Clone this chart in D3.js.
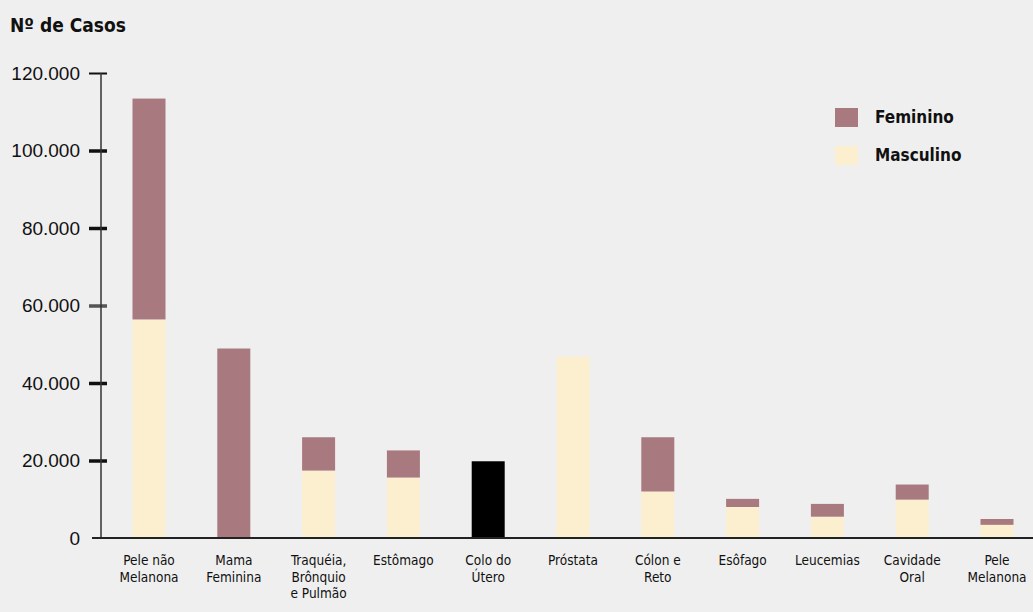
<!DOCTYPE html>
<html>
<head>
<meta charset="utf-8">
<script src="https://cdn.jsdelivr.net/npm/d3@7/dist/d3.min.js"></script>
<style>
  html, body { margin: 0; padding: 0; background: #efefef; }
  svg { display: block; }
  text { font-family: "DejaVu Sans Condensed", "Liberation Sans Narrow", "Liberation Sans", sans-serif; fill: #111; }
</style>
</head>
<body>
<svg id="chart" width="1033" height="612"></svg>
<script>
const categories = [
  ["Pele não", "Melanona"],
  ["Mama", "Feminina"],
  ["Traquéia,", "Brônquio", "e Pulmão"],
  ["Estômago"],
  ["Colo do", "Útero"],
  ["Próstata"],
  ["Cólon e", "Reto"],
  ["Esôfago"],
  ["Leucemias"],
  ["Cavidade", "Oral"],
  ["Pele", "Melanona"]
];
const masculino = [56400, 0, 17400, 15600, 0, 46800, 12000, 8000, 5500, 9900, 3400];
const feminino  = [57000, 48900, 8600, 7000, 19800, 0, 14000, 2100, 3300, 3900, 1500];
const yTicks = [0, 20000, 40000, 60000, 80000, 100000, 120000];
const seriesNames = ["Feminino", "Masculino"];
const colors = { Feminino: "#a8797f", Masculino: "#fcefd0", special: "#000000" };
const specialIndex = 4; // Colo do Útero drawn black in the original

const svg = d3.select("#chart");
const keys = categories.map(c => c.join(" "));

const x = d3.scalePoint().domain(keys).range([149, 997]);
const y = d3.scaleLinear().domain([0, 120000]).range([538, 73]);
const barW = 33;

const locale = d3.formatLocale({ decimal: ",", thousands: ".", grouping: [3], currency: ["R$", ""] });
const fmt = locale.format(",d");

// title
svg.append("text").attr("x", 10).attr("y", 32)
  .attr("font-size", 19).attr("font-weight", "bold")
  .text("Nº de Casos");

// y axis
const yAxis = d3.axisLeft(y).tickValues(yTicks).tickFormat(fmt).tickSize(0).tickPadding(21);
const gy = svg.append("g").attr("transform", "translate(101,0)").call(yAxis);
gy.select(".domain").remove();
gy.selectAll(".tick text").attr("font-size", 19).style("font-family", "inherit").attr("fill", "#111");
gy.append("line").attr("x1", 0).attr("x2", 0).attr("y1", y(120000)).attr("y2", y(0))
  .attr("stroke", "#333").attr("stroke-width", 1.5);
gy.selectAll(".tick").filter(d => d > 0).append("line")
  .attr("x1", -12).attr("x2", 6).attr("y1", 0).attr("y2", 0)
  .attr("stroke", d => d === 60000 ? "#555" : "#111")
  .attr("stroke-width", d => d === 120000 ? 2 : 3.5);

// stacked bars
const data = keys.map((k, i) => ({ key: k, Masculino: masculino[i], Feminino: feminino[i], i }));
const stack = d3.stack().keys(["Masculino", "Feminino"]);
const layers = stack(data);
svg.append("g").selectAll("g").data(layers).join("g")
  .selectAll("rect").data(d => d.map(v => ({ v, key: d.key })))
  .join("rect")
  .attr("x", d => x(d.v.data.key) - barW / 2)
  .attr("width", barW)
  .attr("y", d => y(d.v[1]))
  .attr("height", d => y(d.v[0]) - y(d.v[1]))
  .attr("fill", d => (d.key === "Feminino" && d.v.data.i === specialIndex) ? colors.special : colors[d.key]);

// x axis line
svg.append("line").attr("x1", 92).attr("x2", 1033).attr("y1", y(0)).attr("y2", y(0))
  .attr("stroke", "#222").attr("stroke-width", 2);

// x labels
const xl = svg.append("g").selectAll("text").data(categories).join("text")
  .attr("text-anchor", "middle")
  .attr("font-size", 13.5)
  .attr("transform", (d, i) => `translate(${x(keys[i])},565)`);
xl.selectAll("tspan").data(d => d).join("tspan")
  .attr("x", 0).attr("dy", (d, j) => j === 0 ? 0 : 16.5)
  .text(d => d);

// legend
const leg = svg.append("g");
seriesNames.forEach((s, i) => {
  leg.append("rect").attr("x", 835).attr("y", 108 + i * 38).attr("width", 23).attr("height", 19)
    .attr("fill", colors[s]);
  leg.append("text").attr("x", 875).attr("y", 117 + i * 38).attr("dy", "0.35em")
    .attr("font-size", 17).attr("font-weight", "bold").text(s);
});
</script>
</body>
</html>
